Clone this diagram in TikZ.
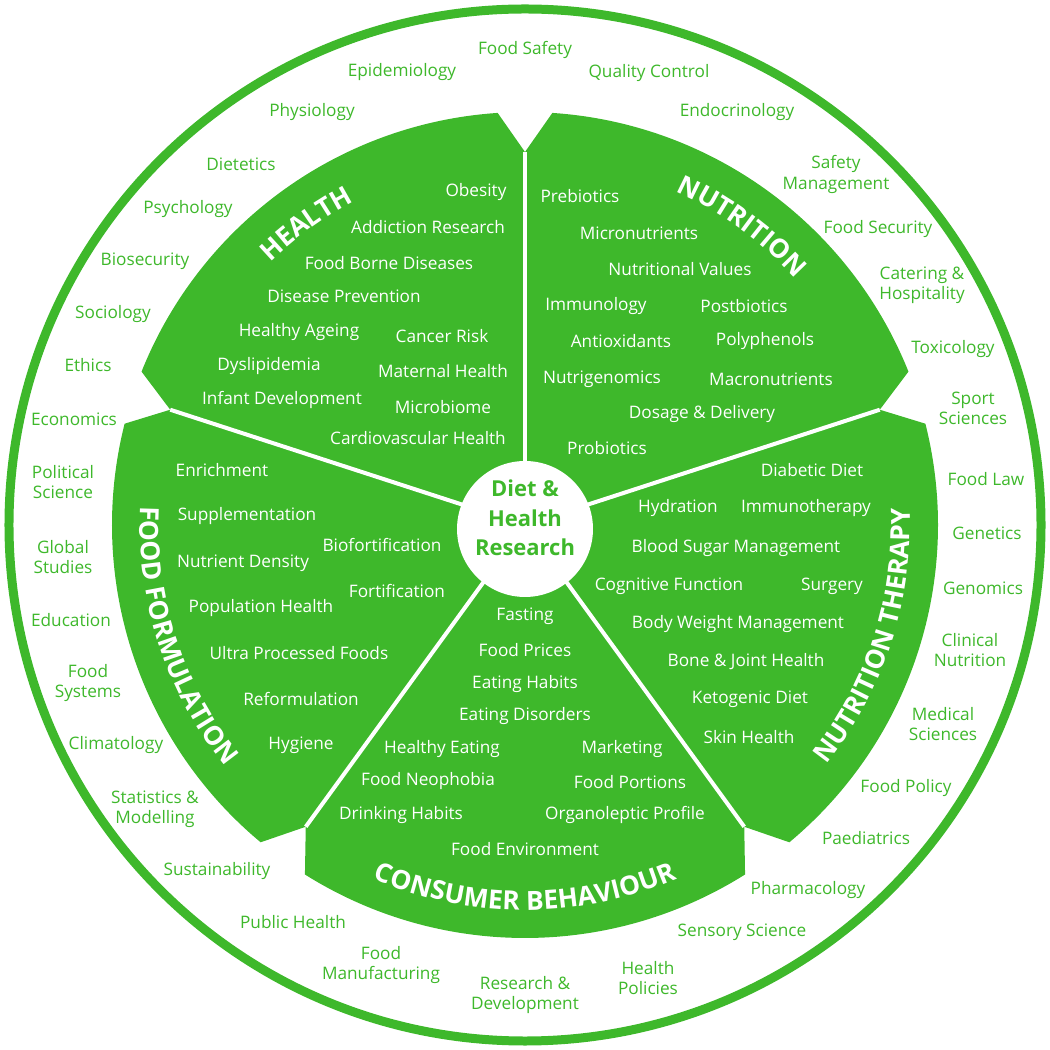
\documentclass[tikz,border=0pt]{standalone}
\usepackage{fontspec}
\setmainfont{Open Sans}
\usetikzlibrary{decorations.text}
\definecolor{leaf}{RGB}{62,184,43}
\newcommand{\titlefont}{\color{white}\fontsize{15}{18}\selectfont\bfseries}
\tikzstyle{topic}=[text=white, font=\fontsize{9.8}{11.4}\selectfont, align=center, yshift=-0.06cm]
\tikzstyle{field}=[text=leaf, font=\fontsize{9.8}{11.4}\selectfont, align=center, yshift=-0.05cm]
\tikzstyle{sector}=[fill=leaf]
\tikzstyle{spoke}=[draw=white, line width=0.08cm]
\tikzstyle{ring}=[draw=leaf, line width=0.18cm]
\tikzstyle{hubdisc}=[circle, fill=white, minimum size=2.72cm, inner sep=0pt]
\tikzstyle{hubtext}=[text=leaf, font=\fontsize{12.5}{16.7}\selectfont\bfseries, align=center]
\tikzstyle{title}=[decorate, decoration={text along path, text align=center}]

\begin{document}
\begin{tikzpicture}[x=0.02cm, y=0.02cm]
  \useasboundingbox (-525,-525) rectangle (525,525);
  \draw[ring] (0,0) circle[radius=516];

  \foreach \c in {126,54,-18,-90,-162}
    \fill[sector] (0,0) -- (\c-36:373) -- (\c-32.2:413)
      arc[start angle=\c-32.2, end angle=\c+32.2, radius=413]
      -- (\c+36:373) -- cycle;
  \foreach \s in {90,18,-54,-126,-198}
    \draw[spoke] (0,0) -- (\s:373);

  \node[hubdisc] (hub) at (0,-4) {};
  \node[hubtext] (hubtext) at (0,7) {Diet \&\\Health\\Research};

  \path[title, decoration={text={|\titlefont|HEALTH}}]
    (166:366) arc[start angle=166, end angle=86, radius=366];
  \path[title, decoration={text={|\titlefont|NUTRITION}}]
    (94:366) arc[start angle=94, end angle=14, radius=366];
  \path[title, decoration={text={|\titlefont|NUTRITION THERAPY}}]
    (-58:385) arc[start angle=-58, end angle=22, radius=385];
  \path[title, decoration={text={|\titlefont|CONSUMER BEHAVIOUR}}]
    (-130:385) arc[start angle=-130, end angle=-50, radius=385];
  \path[title, decoration={text={|\titlefont|FOOD FORMULATION}}]
    (158:385) arc[start angle=158, end angle=238, radius=385];

  \node[topic] (obesity) at (-49, 336) {Obesity};
  \node[topic] (addiction) at (-97, 301) {Addiction Research};
  \node[topic] (foodborne) at (-136, 265) {Food Borne Diseases};
  \node[topic] (prevention) at (-181, 232) {Disease Prevention};
  \node[topic] (ageing) at (-226, 196) {Healthy Ageing};
  \node[topic] (cancer) at (-83, 192) {Cancer Risk};
  \node[topic] (dyslip) at (-256, 162) {Dyslipidemia};
  \node[topic] (maternal) at (-82, 157) {Maternal Health};
  \node[topic] (infant) at (-243, 128) {Infant Development};
  \node[topic] (microbiome) at (-82, 121) {Microbiome};
  \node[topic] (cardio) at (-107, 90) {Cardiovascular Health};

  \node[topic] (prebiotics) at (55, 332) {Prebiotics};
  \node[topic] (micro) at (114, 295) {Micronutrients};
  \node[topic] (values) at (155, 259) {Nutritional Values};
  \node[topic] (immunology) at (71, 222) {Immunology};
  \node[topic] (postbiotics) at (219, 222) {Postbiotics};
  \node[topic] (antiox) at (96, 187) {Antioxidants};
  \node[topic] (polyphenols) at (240, 187) {Polyphenols};
  \node[topic] (nutrigen) at (77, 149) {Nutrigenomics};
  \node[topic] (macro) at (246, 149) {Macronutrients};
  \node[topic] (dosage) at (177, 114) {Dosage \& Delivery};
  \node[topic] (probiotics) at (82, 80) {Probiotics};

  \node[topic] (diabetic) at (287, 58) {Diabetic Diet};
  \node[topic] (hydration) at (153, 20) {Hydration};
  \node[topic] (immuno) at (281, 20) {Immunotherapy};
  \node[topic] (sugar) at (211, -20) {Blood Sugar Management};
  \node[topic] (cognitive) at (144, -58) {Cognitive Function};
  \node[topic] (surgery) at (307, -58) {Surgery};
  \node[topic] (weight) at (213, -96) {Body Weight Management};
  \node[topic] (bone) at (221, -134) {Bone \& Joint Health};
  \node[topic] (keto) at (225, -171) {Ketogenic Diet};
  \node[topic] (skin) at (224, -209) {Skin Health};

  \node[topic] (fasting) at (0, -88) {Fasting};
  \node[topic] (prices) at (0, -122) {Food Prices};
  \node[topic] (habits) at (0, -156) {Eating Habits};
  \node[topic] (disorders) at (0, -188) {Eating Disorders};
  \node[topic] (healthyeat) at (-83, -221) {Healthy Eating};
  \node[topic] (marketing) at (97, -221) {Marketing};
  \node[topic] (neophobia) at (-97, -253) {Food Neophobia};
  \node[topic] (portions) at (105, -254) {Food Portions};
  \node[topic] (drinking) at (-124, -287) {Drinking Habits};
  \node[topic] (organo) at (100, -287) {Organoleptic Profile};
  \node[topic] (environment) at (0, -321) {Food Environment};

  \node[topic] (enrich) at (-303, 58) {Enrichment};
  \node[topic] (supplement) at (-278, 12) {Supplementation};
  \node[topic] (biofort) at (-143, -17) {Biofortification};
  \node[topic] (density) at (-282, -35) {Nutrient Density};
  \node[topic] (fortif) at (-128, -63) {Fortification};
  \node[topic] (population) at (-264, -80) {Population Health};
  \node[topic] (ultra) at (-226, -125) {Ultra Processed Foods};
  \node[topic] (reform) at (-224, -171) {Reformulation};
  \node[topic] (hygiene) at (-224, -217) {Hygiene};

  \node[field] (safety) at (0, 478) {Food Safety};
  \node[field] (epidem) at (-123, 455) {Epidemiology};
  \node[field] (quality) at (124, 454) {Quality Control};
  \node[field] (physio) at (-213, 415) {Physiology};
  \node[field] (endo) at (212, 415) {Endocrinology};
  \node[field] (dietetics) at (-284, 363) {Dietetics};
  \node[field] (safetymgmt) at (311, 353) {Safety\\Management};
  \node[field] (psych) at (-337, 318) {Psychology};
  \node[field] (security) at (353, 298) {Food Security};
  \node[field] (biosec) at (-380, 266) {Biosecurity};
  \node[field] (catering) at (397, 242) {Catering \&\\Hospitality};
  \node[field] (socio) at (-412, 213) {Sociology};
  \node[field] (toxic) at (428, 178) {Toxicology};
  \node[field] (ethics) at (-437, 162) {Ethics};
  \node[field] (sport) at (448, 119) {Sport\\Sciences};
  \node[field] (econ) at (-451, 108) {Economics};
  \node[field] (polsci) at (-462, 45) {Political\\Science};
  \node[field] (law) at (461, 48) {Food Law};
  \node[field] (global) at (-462, -30) {Global\\Studies};
  \node[field] (genetics) at (462, -6) {Genetics};
  \node[field] (edu) at (-454, -93) {Education};
  \node[field] (genomics) at (458, -61) {Genomics};
  \node[field] (systems) at (-437, -156) {Food\\Systems};
  \node[field] (clinical) at (445, -123) {Clinical\\Nutrition};
  \node[field] (climate) at (-409, -218) {Climatology};
  \node[field] (medical) at (418, -197) {Medical\\Sciences};
  \node[field] (stats) at (-370, -282) {Statistics \&\\Modelling};
  \node[field] (policy) at (381, -261) {Food Policy};
  \node[field] (sustain) at (-308, -344) {Sustainability};
  \node[field] (paed) at (341, -311) {Paediatrics};
  \node[field] (pharma) at (283, -363) {Pharmacology};
  \node[field] (publichealth) at (-232, -395) {Public Health};
  \node[field] (sensory) at (217, -405) {Sensory Science};
  \node[field] (manuf) at (-144, -438) {Food\\Manufacturing};
  \node[field] (policies) at (123, -451) {Health\\Policies};
  \node[field] (rnd) at (0, -468) {Research \&\\Development};
\end{tikzpicture}
\end{document}
